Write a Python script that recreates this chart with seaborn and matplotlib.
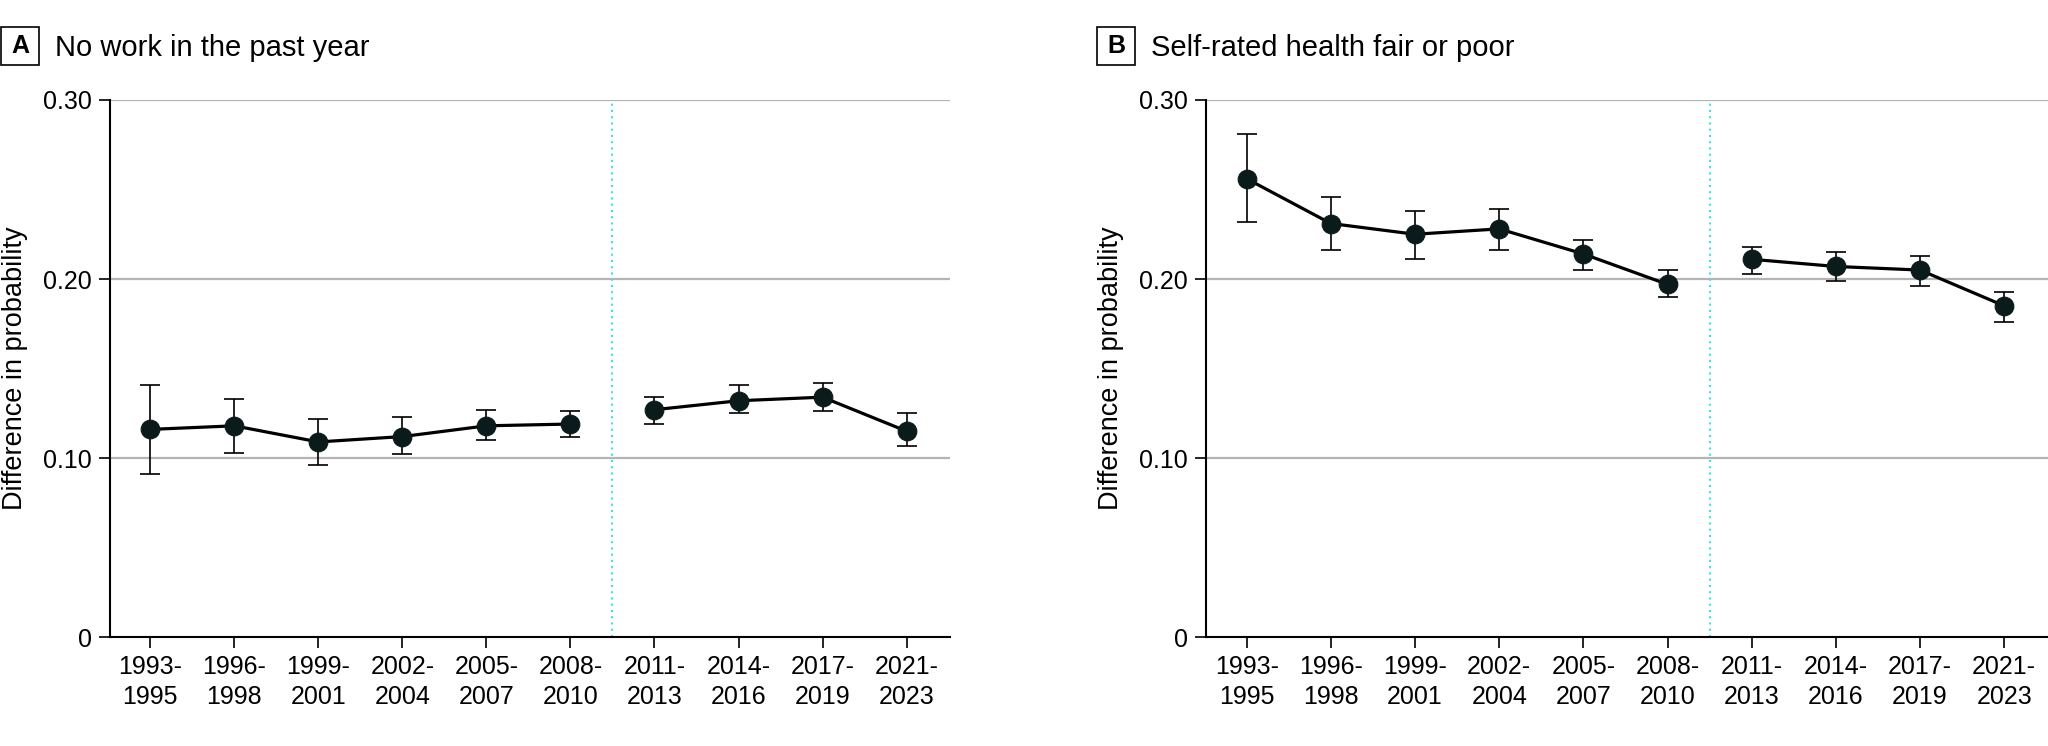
import numpy as np
import pandas as pd
import matplotlib
matplotlib.use("Agg")
import matplotlib.pyplot as plt
import matplotlib.patches as mpatches
import seaborn as sns

# %% Data
periods = ["1993-\n1995", "1996-\n1998", "1999-\n2001", "2002-\n2004", "2005-\n2007",
           "2008-\n2010", "2011-\n2013", "2014-\n2016", "2017-\n2019", "2021-\n2023"]

# Panel A: no work in the past year
work_est = [0.116, 0.118, 0.109, 0.112, 0.118, 0.119, 0.127, 0.132, 0.134, 0.115]
work_lo = [0.091, 0.103, 0.096, 0.102, 0.110, 0.112, 0.119, 0.125, 0.126, 0.107]
work_hi = [0.141, 0.133, 0.122, 0.123, 0.127, 0.126, 0.134, 0.141, 0.142, 0.125]

# Panel B: self-rated health fair or poor
health_est = [0.256, 0.231, 0.225, 0.228, 0.214, 0.197, 0.211, 0.207, 0.205, 0.185]
health_lo = [0.232, 0.216, 0.211, 0.216, 0.205, 0.190, 0.203, 0.199, 0.196, 0.176]
health_hi = [0.281, 0.246, 0.238, 0.239, 0.222, 0.205, 0.218, 0.215, 0.213, 0.193]

# segment break: survey redesign between 2008-2010 and 2011-2013
segment = ["early"] * 6 + ["late"] * 4

panels = [
    ("A", "No work in the past year", work_est, work_lo, work_hi),
    ("B", "Self-rated health fair or poor", health_est, health_lo, health_hi),
]

# %% Style
sns.set_style("white")
plt.rcParams["font.family"] = ["Liberation Sans", "DejaVu Sans"]
plt.rcParams["text.color"] = "black"
plt.rcParams["axes.labelcolor"] = "black"
plt.rcParams["xtick.color"] = "black"
plt.rcParams["ytick.color"] = "black"

dot_color = "#0b1a1a"
grid_color = "#b4b4b4"

fig = plt.figure(figsize=(20.48, 7.46), dpi=100)
axes = [fig.add_axes([0.0537, 0.146, 0.4103, 0.72]),
        fig.add_axes([0.589, 0.146, 0.411, 0.72])]

for ax, (letter, title, est, lo, hi) in zip(axes, panels):
    df = pd.DataFrame({"pos": np.arange(len(periods)), "est": est,
                       "lo": lo, "hi": hi, "segment": segment})

    # gridlines
    for yv in [0.10, 0.20, 0.30]:
        ax.axhline(yv, color=grid_color, lw=1.6, zorder=0)

    # CI bars
    ax.errorbar(df["pos"], df["est"],
                yerr=[df["est"] - df["lo"], df["hi"] - df["est"]],
                fmt="none", ecolor="black", elinewidth=1.2, capsize=7.5,
                capthick=1.2, zorder=2)

    # lines + points
    sns.lineplot(data=df, x="pos", y="est", units="segment", estimator=None,
                 color="black", lw=2.3, marker="o", markersize=13.5,
                 markerfacecolor=dot_color, markeredgecolor=dot_color,
                 ax=ax, legend=False, zorder=3)

    # break line
    ax.axvline(5.5, color="#3fe0e6", lw=1.5, ls=(0, (1, 2)), zorder=1)

    ax.set_xlim(-0.48, 9.52)
    ax.set_ylim(0, 0.30)
    ax.set_xticks(df["pos"])
    ax.set_xticklabels(periods, fontsize=18, linespacing=1.3)
    ax.set_yticks([0, 0.10, 0.20, 0.30])
    ax.set_yticklabels(["0", "0.10", "0.20", "0.30"], fontsize=18)
    ax.set_xlabel("")
    ax.set_ylabel("Difference in probability", fontsize=19.5, labelpad=11)
    ax.tick_params(axis="both", direction="out", length=8, width=1.2,
                   color="black", pad=5, left=True, bottom=True)

    for side in ["top", "right"]:
        ax.spines[side].set_visible(False)
    for side in ["left", "bottom"]:
        ax.spines[side].set_color("black")
        ax.spines[side].set_linewidth(1.5)

    # panel letter box + title
    x0 = ax.get_position().x0
    bx = x0 - 110 / 2048
    fig.patches.append(mpatches.Rectangle((bx + 1 / 2048, 1 - 65 / 746), 38 / 2048, 38 / 746,
                                          transform=fig.transFigure, fill=False,
                                          ec="black", lw=1.2))
    fig.text(bx + 20 / 2048, 1 - 46 / 746, letter, fontsize=18, fontweight="bold",
             ha="center", va="center")
    fig.text(bx + 55 / 2048, 1 - 48 / 746, title, fontsize=21, ha="left", va="center")

fig.savefig("out.png", dpi=100)
plt.close(fig)
